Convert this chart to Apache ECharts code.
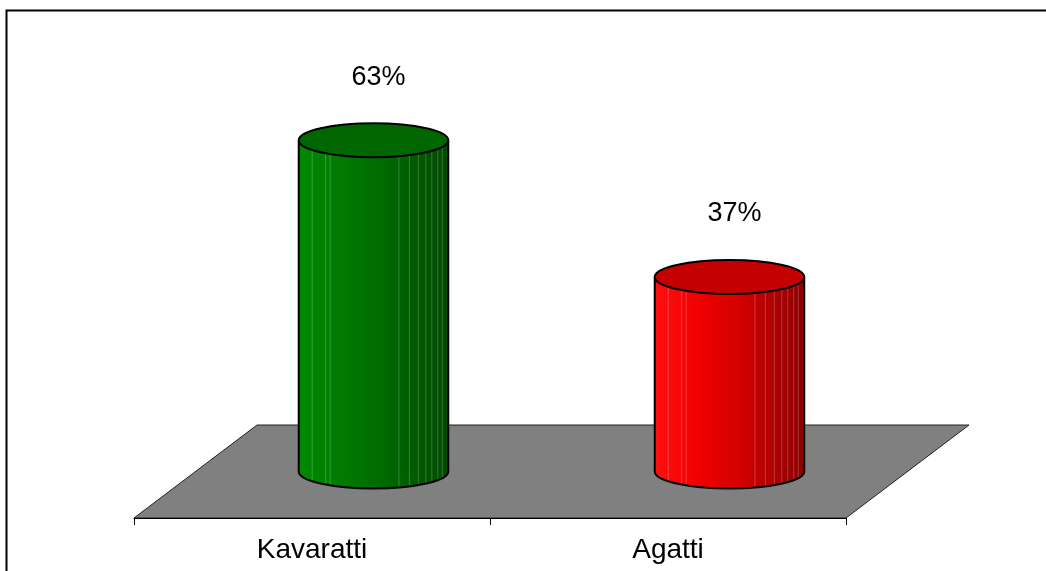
<!DOCTYPE html>
<html>
<head>
<meta charset="utf-8">
<script src="https://cdn.jsdelivr.net/npm/echarts@6/dist/echarts.min.js"></script>
<style>html,body{margin:0;padding:0;background:#fff;}#c{width:1046px;height:571px;}</style>
</head>
<body>
<div id="c"></div>
<script>
// ---- data ----
const categories = ['Kavaratti', 'Agatti'];
const values = [63, 37];
const labelSuffix = '%';

// ---- styles ----
const sideGradients = [
  [['0', '#008a00'], ['0.3', '#007a00'], ['0.6', '#006800'], ['1', '#004a00']],
  [['0', '#ff1010'], ['0.3', '#f00000'], ['0.6', '#d00000'], ['1', '#8c0000']]
];
const topColors = ['#006600', '#c40000'];
const stripeFractions = [0.09, 0.18, 0.21, 0.67, 0.74, 0.80, 0.85, 0.89, 0.93, 0.96];
const DEPTH_X = 123, DEPTH_Y = 93;
const FAMILY = '"Liberation Sans", Arial, sans-serif';
const FONT = '27px ' + FAMILY;

const chart = echarts.init(document.getElementById('c'), null, {renderer: 'canvas'});

function renderFloor(params, api) {
  const cs = params.coordSys;
  const x = cs.x, y = cs.y + cs.height, w = cs.width;
  return {
    type: 'polygon',
    shape: {points: [[x, y], [x + DEPTH_X, y - DEPTH_Y], [x + w + DEPTH_X, y - DEPTH_Y], [x + w, y]]},
    style: {fill: '#808080', stroke: '#222', lineWidth: 1}
  };
}

function renderCyl(params, api) {
  const idx = api.value(0);
  const v = api.value(1);
  const base = api.coord([idx, 0]);
  const top = api.coord([idx, v]);
  const band = api.size([1, 0])[0];
  const cx = base[0] + DEPTH_X / 2;
  const by = base[1] - DEPTH_Y / 2;
  const ty = top[1] - DEPTH_Y / 2;
  const rx = band * 0.21;
  const ry = 17;
  const stops = sideGradients[idx].map(s => ({offset: +s[0], color: s[1]}));
  const grad = new echarts.graphic.LinearGradient(0, 0, 1, 0, stops);
  const children = [];
  children.push({type: 'ellipse', shape: {cx: cx, cy: by, rx: rx, ry: ry}, style: {fill: grad, stroke: '#000', lineWidth: 2}});
  children.push({type: 'rect', shape: {x: cx - rx, y: ty, width: rx * 2, height: by - ty}, style: {fill: new echarts.graphic.LinearGradient(0, 0, 1, 0, stops)}});
  stripeFractions.forEach(f => {
    const sx = cx - rx + f * 2 * rx;
    const t = (sx - cx) / rx;
    const ey = by + ry * Math.sqrt(Math.max(0, 1 - t * t));
    children.push({type: 'line', shape: {x1: sx, y1: ty, x2: sx, y2: ey - 1}, style: {stroke: 'rgba(255,255,255,0.22)', lineWidth: 1}});
  });
  children.push({type: 'line', shape: {x1: cx - rx, y1: ty, x2: cx - rx, y2: by}, style: {stroke: '#000', lineWidth: 2}});
  children.push({type: 'line', shape: {x1: cx + rx, y1: ty, x2: cx + rx, y2: by}, style: {stroke: '#000', lineWidth: 2}});
  children.push({type: 'ellipse', shape: {cx: cx, cy: ty, rx: rx, ry: ry}, style: {fill: topColors[idx], stroke: '#000', lineWidth: 2}});
  children.push({type: 'text', style: {x: cx + 5, y: ty - 63, text: v + labelSuffix, font: FONT, fill: '#000', align: 'center', verticalAlign: 'middle'}});
  return {type: 'group', children: children};
}

chart.setOption({
  animation: false,
  backgroundColor: '#fff',
  graphic: [{
    type: 'rect', left: 4, top: 8, shape: {width: 1070, height: 600},
    style: {fill: 'none', stroke: '#000', lineWidth: 2}, z: 100
  }],
  grid: {left: 134, right: 200, top: 150, bottom: 53, containLabel: false},
  xAxis: {
    type: 'category', data: categories,
    axisLine: {show: true, lineStyle: {color: '#000', width: 1}},
    axisTick: {show: true, length: 7, lineStyle: {color: '#000'}},
    axisLabel: {fontSize: 28, fontFamily: FAMILY, color: '#000', margin: 18},
    splitLine: {show: false}, z: 10
  },
  yAxis: {type: 'value', min: 0, max: 70, show: false, splitLine: {show: false}},
  series: [
    {type: 'custom', z: 1, silent: true, data: [[0, 0]], renderItem: renderFloor, encode: {x: 0, y: 1}},
    {type: 'custom', z: 2, data: values.map((v, i) => [i, v]), renderItem: renderCyl, encode: {x: 0, y: 1}}
  ]
});
</script>
</body>
</html>
